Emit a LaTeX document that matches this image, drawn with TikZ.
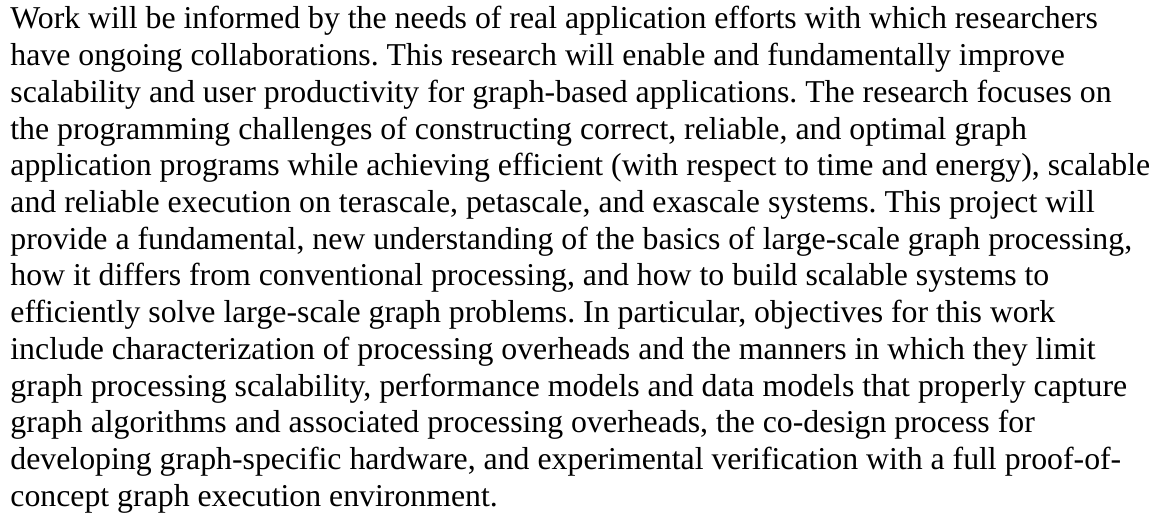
\documentclass[tikz,border=0pt]{standalone}
\usepackage{fontspec}
\setmainfont{Liberation Serif}
\usepackage{tikz}

\begin{document}
\frenchspacing
\begin{tikzpicture}[
  line/.style={anchor=base west,inner sep=0pt,font=\fontsize{15.9}{18.35}\selectfont}]
  \useasboundingbox (0,0) rectangle (583pt,-259.5pt);
  \foreach \txt [count=\i] in {
    {Work will be informed by the needs of real application efforts with which researchers},
    {have ongoing collaborations. This research will enable and fundamentally improve},
    {scalability and user productivity for graph-based applications. The research focuses on},
    {the programming challenges of constructing correct, reliable, and optimal graph},
    {application programs while achieving efficient (with respect to time and energy), scalable},
    {and reliable execution on terascale, petascale, and exascale systems. This project will},
    {provide a fundamental, new understanding of the basics of large-scale graph processing,},
    {how it differs from conventional processing, and how to build scalable systems to},
    {efficiently solve large-scale graph problems. In particular, objectives for this work},
    {include characterization of processing overheads and the manners in which they limit},
    {graph processing scalability, performance models and data models that properly capture},
    {graph algorithms and associated processing overheads, the co-design process for},
    {developing graph-specific hardware, and experimental verification with a full proof-of-},
    {concept graph execution environment.}}
    \node[line] (l\i) at (5pt,{-14.5pt-(\i-1)*18.35pt}) {\txt};
\end{tikzpicture}
\end{document}
